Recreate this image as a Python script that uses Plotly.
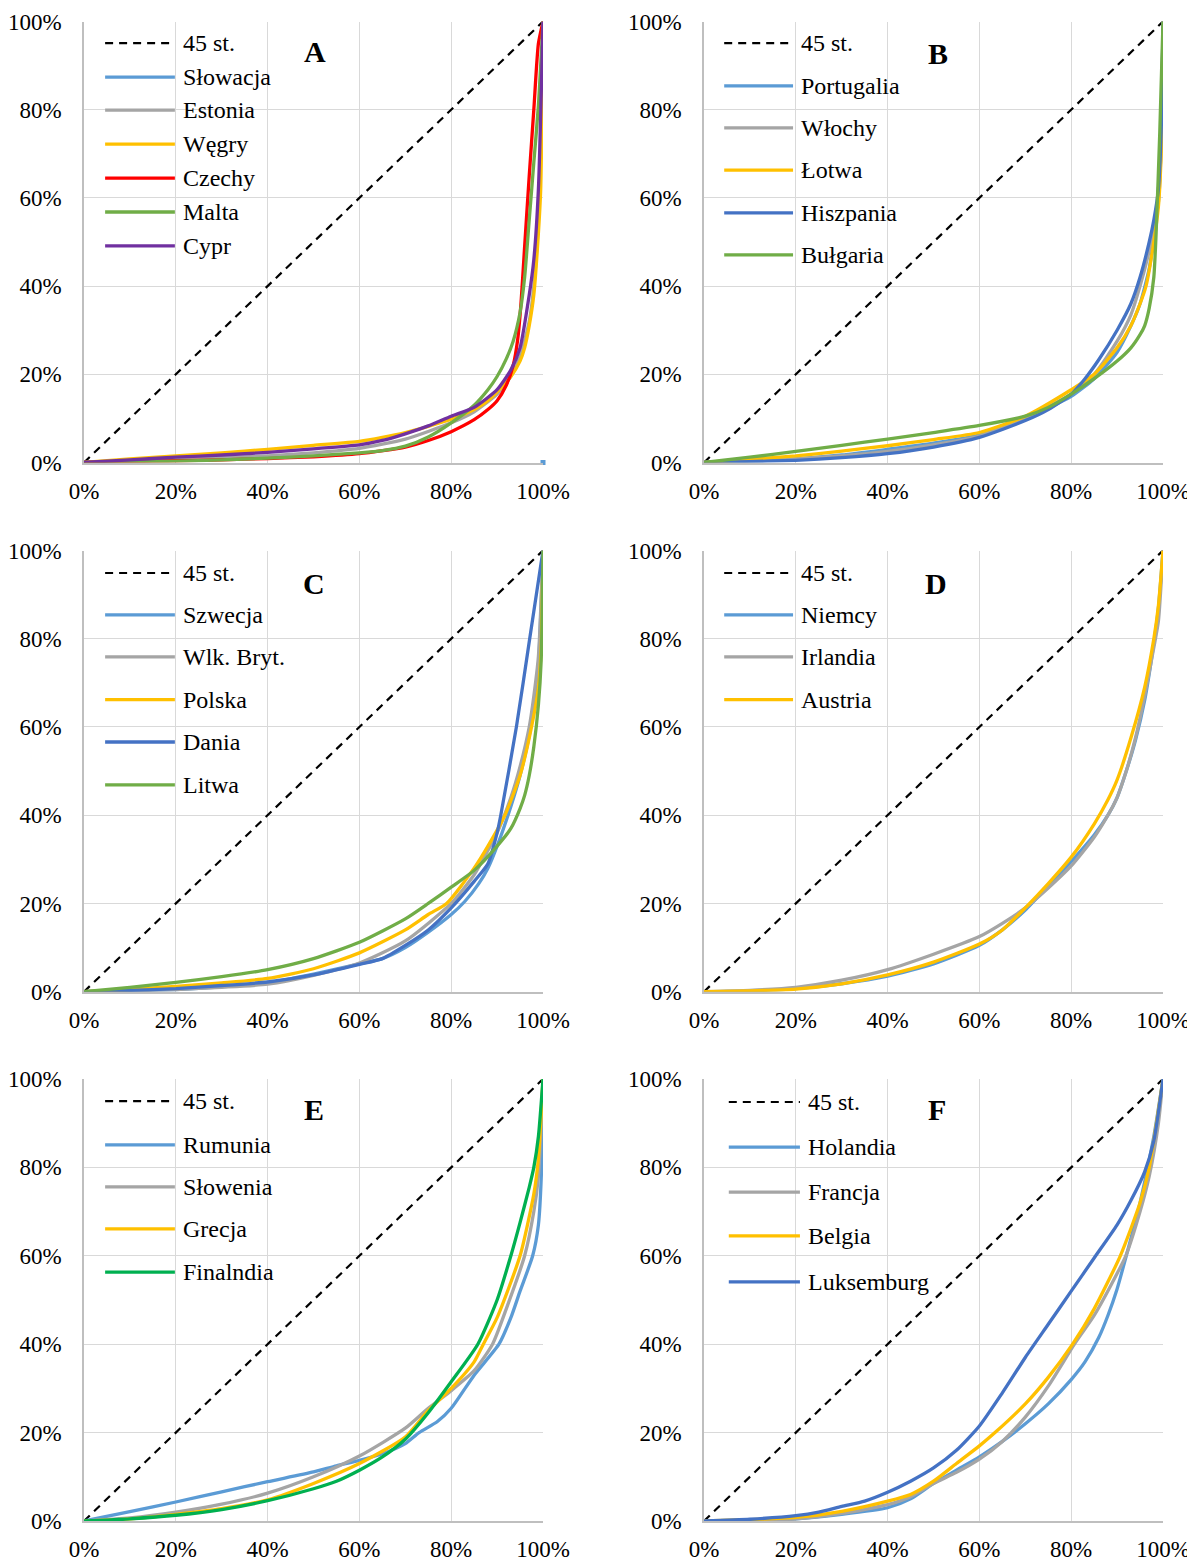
import plotly.graph_objects as go
from plotly.subplots import make_subplots

# ---------------- DATA ----------------
ticks = [0, 0.2, 0.4, 0.6, 0.8, 1.0]
tick_labels = ["0%", "20%", "40%", "60%", "80%", "100%"]
diag_x = [0, 1]
diag_y = [0, 1]
diag_name = "45 st."

# Panel A
slowacja_x = [1.0]
slowacja_y = [0.0]
estonia_x = [0, .1, .2, .3, .4, .5, .6, .7, .8, .85, .9, .93, .95, .97, .98, .99, 1]
estonia_y = [0, .004, .008, .011, .015, .022, .032, .053, .09, .115, .155, .195, .24, .32, .40, .55, 1]
wegry_x = [0, .1, .2, .3, .4, .5, .6, .65, .7, .75, .8, .85, .88, .9, .93, .95, .96, .97, .98, .99, .995, 1]
wegry_y = [0, .008, .015, .022, .03, .039, .048, .057, .068, .082, .098, .12, .14, .16, .195, .23, .26, .31, .38, .52, .62, 1]
czechy_x = [0, .1, .2, .3, .4, .5, .6, .7, .75, .8, .85, .88, .9, .92, .935, .945, .952, .96, .97, .98, .99, 1]
czechy_y = [0, .002, .004, .006, .009, .013, .02, .035, .05, .07, .097, .12, .14, .175, .22, .28, .36, .49, .65, .80, .95, 1]
malta_x = [0, .1, .2, .3, .4, .5, .6, .65, .7, .75, .8, .85, .88, .9, .92, .935, .95, .96, .97, .98, .99, 1]
malta_y = [0, .001, .003, .006, .01, .015, .022, .027, .037, .058, .09, .13, .165, .195, .235, .275, .34, .42, .55, .68, .81, 1]
cypr_x = [0, .1, .2, .3, .4, .5, .6, .65, .7, .75, .8, .85, .9, .93, .95, .97, .98, .99, 1]
cypr_y = [0, .006, .012, .017, .023, .031, .04, .05, .065, .083, .105, .125, .165, .21, .26, .38, .46, .62, 1]

# Panel B
portugalia_x = [0, .1, .2, .3, .4, .5, .6, .7, .8, .85, .9, .93, .95, .97, .98, .99, .996, 1]
portugalia_y = [0, .003, .008, .017, .03, .044, .062, .10, .15, .19, .25, .31, .36, .44, .51, .60, .72, 1]
wlochy_x = [0, .1, .2, .3, .4, .5, .6, .7, .8, .85, .9, .93, .95, .97, .98, .99, .996, 1]
wlochy_y = [0, .003, .008, .015, .025, .04, .06, .10, .155, .20, .275, .335, .40, .48, .53, .59, .72, 1]
lotwa_x = [0, .1, .2, .3, .4, .5, .6, .7, .8, .85, .9, .93, .95, .963, .98, .99, .996, 1]
lotwa_y = [0, .007, .015, .026, .038, .052, .068, .105, .165, .20, .26, .31, .36, .40, .50, .58, .70, 1]
hiszpania_x = [0, .1, .2, .3, .4, .5, .6, .7, .75, .8, .83, .86, .9, .93, .95, .97, .98, .99, .996, 1]
hiszpania_y = [0, .002, .005, .011, .02, .035, .057, .095, .12, .155, .19, .233, .30, .36, .42, .50, .55, .62, .75, 1]
bulgaria_x = [0, .1, .2, .3, .4, .5, .6, .7, .75, .8, .85, .9, .93, .95, .96, .97, .98, .985, .993, 1]
bulgaria_y = [0, .012, .025, .039, .053, .068, .084, .105, .125, .155, .19, .23, .26, .29, .31, .35, .42, .52, .75, 1]

# Panel C
szwecja_x = [0, .1, .2, .3, .4, .5, .6, .65, .7, .75, .8, .83, .86, .88, .9, .93, .95, .97, .98, .99, 1]
szwecja_y = [0, .002, .005, .011, .02, .04, .063, .075, .10, .135, .175, .205, .245, .28, .33, .42, .49, .58, .65, .74, 1]
wlkbryt_x = [0, .1, .2, .3, .4, .5, .6, .7, .8, .85, .88, .9, .93, .95, .97, .98, .99, 1]
wlkbryt_y = [0, .002, .005, .01, .017, .037, .065, .115, .20, .265, .32, .36, .44, .51, .60, .67, .76, 1]
polska_x = [0, .1, .2, .3, .4, .5, .6, .7, .75, .79, .85, .88, .917, .95, .975, .99, .996, 1]
polska_y = [0, .005, .012, .02, .03, .052, .088, .14, .175, .20, .28, .33, .40, .49, .60, .69, .78, 1]
dania_x = [0, .1, .2, .3, .4, .5, .6, .65, .7, .75, .8, .85, .88, .9, .908, .942, .971, 1]
dania_y = [0, .003, .007, .014, .022, .038, .062, .075, .105, .14, .19, .25, .29, .36, .40, .60, .80, 1]
litwa_x = [0, .1, .2, .3, .4, .5, .6, .7, .75, .8, .85, .9, .93, .95, .96, .97, .98, .99, .996, 1]
litwa_y = [0, .01, .021, .034, .05, .075, .112, .165, .20, .237, .275, .33, .37, .415, .445, .49, .555, .65, .75, 1]

# Panel D
niemcy_x = [0, .1, .2, .3, .4, .5, .6, .65, .7, .75, .8, .85, .88, .9, .92, .94, .96, .98, .99, 1]
niemcy_y = [0, .002, .007, .018, .035, .063, .105, .14, .185, .24, .295, .355, .40, .44, .50, .57, .66, .79, .87, 1]
irlandia_x = [0, .1, .2, .3, .4, .5, .6, .65, .7, .75, .8, .85, .88, .9, .92, .94, .96, .98, .99, 1]
irlandia_y = [0, .003, .01, .026, .05, .085, .125, .155, .19, .235, .285, .35, .40, .44, .50, .575, .67, .78, .84, 1]
austria_x = [0, .1, .2, .3, .4, .5, .6, .65, .7, .75, .8, .85, .88, .9, .93, .96, .98, .99, 1]
austria_y = [0, .002, .006, .018, .038, .067, .108, .14, .19, .245, .305, .38, .435, .48, .575, .69, .80, .875, 1]

# Panel E
rumunia_x = [0, .1, .2, .3, .4, .5, .55, .6, .65, .7, .73, .77, .8, .85, .904, .93, .95, .9775, .99, .997, 1]
rumunia_y = [0, .021, .043, .066, .089, .111, .125, .137, .152, .175, .20, .225, .255, .33, .40, .46, .52, .60, .67, .80, 1]
slowenia_x = [0, .1, .2, .3, .4, .5, .6, .7, .75, .8, .85, .89, .92, .96, .98, .99, 1]
slowenia_y = [0, .007, .02, .038, .063, .10, .147, .21, .255, .295, .34, .40, .48, .60, .70, .78, 1]
grecja_x = [0, .1, .2, .3, .4, .5, .6, .7, .75, .8, .85, .87, .9, .95, .98, .99, 1]
grecja_y = [0, .005, .015, .028, .048, .085, .13, .19, .25, .30, .36, .40, .46, .60, .74, .82, 1]
finlandia_x = [0, .1, .2, .3, .4, .5, .55, .6, .65, .7, .75, .8, .858, .9, .93, .95, .97, .98, .99, 1]
finlandia_y = [0, .005, .013, .026, .046, .073, .09, .115, .145, .185, .245, .315, .40, .50, .60, .675, .755, .80, .87, 1]

# Panel F
holandia_x = [0, .1, .2, .3, .4, .45, .5, .55, .6, .65, .7, .75, .8, .83, .86, .88, .9, .92, .95, .98, 1]
holandia_y = [0, .002, .005, .015, .03, .05, .085, .115, .145, .18, .22, .265, .32, .36, .415, .465, .525, .60, .72, .87, 1]
francja_x = [0, .1, .2, .3, .4, .45, .5, .55, .6, .65, .7, .75, .807, .85, .9, .919, .95, .97, .99, 1]
francja_y = [0, .002, .005, .017, .037, .055, .085, .11, .14, .18, .235, .305, .40, .465, .56, .60, .70, .78, .90, 1]
belgia_x = [0, .1, .2, .3, .4, .45, .5, .55, .6, .634, .7, .75, .803, .85, .907, .95, .97, 1]
belgia_y = [0, .003, .008, .022, .045, .06, .09, .13, .17, .20, .265, .325, .40, .48, .60, .72, .80, 1]
luksemburg_x = [0, .1, .2, .25, .3, .35, .4, .45, .5, .55, .6, .65, .7, .75, .8, .85, .9, .93, .96, .98, 1]
luksemburg_y = [0, .004, .012, .02, .033, .045, .065, .09, .12, .16, .215, .29, .37, .445, .52, .595, .67, .725, .79, .86, 1]

# ---------------- STYLE ----------------
C_LBLUE = "#5B9BD5"
C_GRAY = "#A5A5A5"
C_YELLOW = "#FFC000"
C_RED = "#FF0000"
C_GREEN = "#70AD47"
C_PURPLE = "#7030A0"
C_DBLUE = "#4472C4"
C_FGREEN = "#00B050"

panels = [
    ("A", [("Słowacja", slowacja_x, slowacja_y, C_LBLUE),
           ("Estonia", estonia_x, estonia_y, C_GRAY),
           ("Węgry", wegry_x, wegry_y, C_YELLOW),
           ("Czechy", czechy_x, czechy_y, C_RED),
           ("Malta", malta_x, malta_y, C_GREEN),
           ("Cypr", cypr_x, cypr_y, C_PURPLE)]),
    ("B", [("Portugalia", portugalia_x, portugalia_y, C_LBLUE),
           ("Włochy", wlochy_x, wlochy_y, C_GRAY),
           ("Łotwa", lotwa_x, lotwa_y, C_YELLOW),
           ("Hiszpania", hiszpania_x, hiszpania_y, C_DBLUE),
           ("Bułgaria", bulgaria_x, bulgaria_y, C_GREEN)]),
    ("C", [("Szwecja", szwecja_x, szwecja_y, C_LBLUE),
           ("Wlk. Bryt.", wlkbryt_x, wlkbryt_y, C_GRAY),
           ("Polska", polska_x, polska_y, C_YELLOW),
           ("Dania", dania_x, dania_y, C_DBLUE),
           ("Litwa", litwa_x, litwa_y, C_GREEN)]),
    ("D", [("Niemcy", niemcy_x, niemcy_y, C_LBLUE),
           ("Irlandia", irlandia_x, irlandia_y, C_GRAY),
           ("Austria", austria_x, austria_y, C_YELLOW)]),
    ("E", [("Rumunia", rumunia_x, rumunia_y, C_LBLUE),
           ("Słowenia", slowenia_x, slowenia_y, C_GRAY),
           ("Grecja", grecja_x, grecja_y, C_YELLOW),
           ("Finalndia", finlandia_x, finlandia_y, C_FGREEN)]),
    ("F", [("Holandia", holandia_x, holandia_y, C_LBLUE),
           ("Francja", francja_x, francja_y, C_GRAY),
           ("Belgia", belgia_x, belgia_y, C_YELLOW),
           ("Luksemburg", luksemburg_x, luksemburg_y, C_DBLUE)]),
]

# page body has an 8px margin; lay the figure out in page pixels
OFF = 8
W, H = 1195 - OFF, 1561 - OFF
col_px = [(84, 543), (704, 1163)]
row_px = [(21.5, 462.5), (550.5, 991.7), (1079, 1521)]

legend_rows = {
    "A": [0.951, 0.874, 0.799, 0.722, 0.645, 0.568, 0.491],
    "B": [0.951, 0.854, 0.759, 0.663, 0.566, 0.471],
    "C": [0.949, 0.854, 0.759, 0.662, 0.566, 0.469],
    "D": [0.949, 0.854, 0.759, 0.662],
    "E": [0.950, 0.851, 0.756, 0.661, 0.563],
    "F": [0.948, 0.846, 0.744, 0.645, 0.541],
}
legend_x = {
    "A": (0.046, 0.198, 0.211), "C": (0.046, 0.198, 0.211), "E": (0.046, 0.198, 0.211),
    "B": (0.044, 0.194, 0.207), "D": (0.044, 0.194, 0.207),
    "F": (0.054, 0.209, 0.222),
}
letter_pos = {"A": (0.503, 0.931), "B": (0.509, 0.928), "C": (0.50, 0.926),
              "D": (0.505, 0.926), "E": (0.502, 0.930), "F": (0.508, 0.930)}

FONT = "Liberation Serif, Times New Roman, serif"

fig = make_subplots(rows=3, cols=2)

shapes = []
annotations = []

for i, (letter, series) in enumerate(panels):
    r, c = i // 2 + 1, i % 2 + 1
    idx = "" if i == 0 else str(i + 1)
    xr, yr = "x" + idx, "y" + idx
    fig.add_trace(go.Scatter(x=diag_x, y=diag_y, mode="lines",
                             line=dict(color="black", width=2.2, dash="8px,6px"),
                             showlegend=False, hoverinfo="skip"), row=r, col=c)
    for name, xs, ys, col in series:
        if len(xs) == 1:
            fig.add_trace(go.Scatter(x=xs, y=ys, mode="markers",
                                     marker=dict(color=col, size=5, symbol="square"),
                                     showlegend=False, cliponaxis=False), row=r, col=c)
        else:
            fig.add_trace(go.Scatter(x=xs, y=ys, mode="lines",
                                     line=dict(color=col, width=3.3, shape="spline", smoothing=0.6),
                                     showlegend=False), row=r, col=c)
    x0, x1, xt = legend_x[letter]
    rows_y = legend_rows[letter]
    items = [(diag_name, "black", True)] + [(s[0], s[3], False) for s in series]
    for (name, col, dashed), yy in zip(items, rows_y):
        shapes.append(dict(type="line", xref=xr + " domain", yref=yr + " domain",
                           x0=x0, x1=x1, y0=yy, y1=yy,
                           line=dict(color=col, width=2.2 if dashed else 3.3,
                                     dash="8px,6px" if dashed else "solid")))
        annotations.append(dict(text=name, xref=xr + " domain", yref=yr + " domain",
                                x=xt, y=yy, xanchor="left", yanchor="middle",
                                showarrow=False, font=dict(family=FONT, size=24, color="black")))
    lx, ly = letter_pos[letter]
    annotations.append(dict(text="<b>%s</b>" % letter, xref=xr + " domain", yref=yr + " domain",
                            x=lx, y=ly, xanchor="center", yanchor="middle", showarrow=False,
                            font=dict(family=FONT, size=30, color="black")))

    cx = col_px[c - 1]
    ry = row_px[r - 1]
    xdom = [(cx[0] - OFF) / W, (cx[1] - OFF) / W]
    ydom = [1 - (ry[1] - OFF) / H, 1 - (ry[0] - OFF) / H]
    axis_common = dict(range=[0, 1], tickvals=ticks, ticktext=tick_labels,
                       showgrid=True, gridcolor="#D9D9D9", gridwidth=1.4,
                       zeroline=False, showline=True, linecolor="#BFBFBF", linewidth=1.5,
                       ticks="", automargin=False,
                       tickfont=dict(family=FONT, size=23, color="black"))
    fig.update_xaxes(domain=xdom, ticklabelstandoff=7, **axis_common, row=r, col=c)
    fig.update_yaxes(domain=ydom, ticklabelstandoff=16, **axis_common, row=r, col=c)

fig.update_layout(width=W, height=H, margin=dict(l=0, r=0, t=0, b=0, autoexpand=False),
                  paper_bgcolor="white", plot_bgcolor="white",
                  showlegend=False, shapes=shapes, annotations=annotations,
                  font=dict(family=FONT))

fig.write_html("out.html")
